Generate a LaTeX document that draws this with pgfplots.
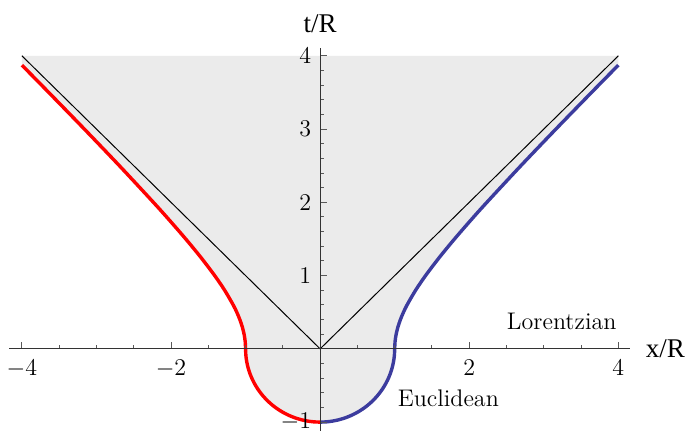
\documentclass[border=0pt]{standalone}
\usepackage{fontspec}
\usepackage{pgfplots}
\pgfplotsset{compat=1.18}
\newfontfamily\tms{Liberation Serif}
\definecolor{fillgray}{HTML}{EBEBEB}
\definecolor{curveblue}{HTML}{3C3C9E}

\begin{document}
\begin{tikzpicture}
\begin{axis}[
    axis lines=middle,
    x=37.25pt, y=36.6pt,
    xmin=-4.17, xmax=4.15,
    ymin=-1.12, ymax=4.1,
    axis line style={draw=black!80, line width=0.5pt, -},
    xtick={-4,-2,2,4},
    ytick={-1,1,2,3,4},
    minor xtick={-3.5,-3,-2.5,-1.5,-1,-0.5,0.5,1,1.5,2.5,3,3.5},
    minor ytick={-0.8,-0.6,-0.4,-0.2,0.2,0.4,0.6,0.8,1.2,1.4,1.6,1.8,2.2,2.4,2.6,2.8,3.2,3.4,3.6,3.8},
    xtick align=inside, ytick align=inside,
    major tick length=3.5pt, minor tick length=2pt,
    tick style={draw=black!65, line width=0.5pt},
    tick label style={font=\fontsize{12}{14}\selectfont},
    xticklabel style={yshift=-2pt},
    yticklabel style={xshift=-1pt},
    xlabel={\tms x/R}, ylabel={\tms t/R},
    every axis x label/.style={at={(ticklabel* cs:1)}, anchor=west, font=\fontsize{13.5}{15}\selectfont, inner sep=0pt, xshift=8pt},
    every axis y label/.style={at={(ticklabel* cs:1)}, anchor=south, font=\fontsize{13.5}{15}\selectfont, inner sep=7.5pt},
    axis on top,
]
% shaded region above the curves
\addplot[fill=fillgray, draw=none] coordinates {
 (-4,4) (4,4) (4,3.873)
 (3.6401,3.5) (3.1623,3) (2.6926,2.5) (2.2361,2) (2.0156,1.75) (1.8028,1.5)
 (1.6008,1.25) (1.4142,1) (1.2806,0.8) (1.1662,0.6) (1.1180,0.5) (1.0770,0.4)
 (1.0440,0.3) (1.0198,0.2) (1.0050,0.1) (1,0)
 (0.9962,-0.0872) (0.9848,-0.1736) (0.9659,-0.2588) (0.9397,-0.3420) (0.9063,-0.4226)
 (0.8660,-0.5) (0.8192,-0.5736) (0.7660,-0.6428) (0.7071,-0.7071) (0.6428,-0.7660)
 (0.5736,-0.8192) (0.5,-0.8660) (0.4226,-0.9063) (0.3420,-0.9397) (0.2588,-0.9659)
 (0.1736,-0.9848) (0.0872,-0.9962) (0,-1)
 (-0.0872,-0.9962) (-0.1736,-0.9848) (-0.2588,-0.9659) (-0.3420,-0.9397) (-0.4226,-0.9063)
 (-0.5,-0.8660) (-0.5736,-0.8192) (-0.6428,-0.7660) (-0.7071,-0.7071) (-0.7660,-0.6428)
 (-0.8192,-0.5736) (-0.8660,-0.5) (-0.9063,-0.4226) (-0.9397,-0.3420) (-0.9659,-0.2588)
 (-0.9848,-0.1736) (-0.9962,-0.0872) (-1,0)
 (-1.0050,0.1) (-1.0198,0.2) (-1.0440,0.3) (-1.0770,0.4) (-1.1180,0.5) (-1.1662,0.6)
 (-1.2806,0.8) (-1.4142,1) (-1.6008,1.25) (-1.8028,1.5) (-2.0156,1.75) (-2.2361,2)
 (-2.6926,2.5) (-3.1623,3) (-3.6401,3.5) (-4,3.873)
} -- cycle;
% light cone
\addplot[black, line width=0.5pt] coordinates {(-4,4) (0,0) (4,4)};
% right branch
\addplot[curveblue, line width=1.7pt, smooth] coordinates {
 (0,-1) (0.0872,-0.9962) (0.1736,-0.9848) (0.2588,-0.9659) (0.3420,-0.9397) (0.4226,-0.9063)
 (0.5,-0.8660) (0.5736,-0.8192) (0.6428,-0.7660) (0.7071,-0.7071) (0.7660,-0.6428)
 (0.8192,-0.5736) (0.8660,-0.5) (0.9063,-0.4226) (0.9397,-0.3420) (0.9659,-0.2588)
 (0.9848,-0.1736) (0.9962,-0.0872) (1,0)
 (1.0050,0.1) (1.0198,0.2) (1.0440,0.3) (1.0770,0.4) (1.1180,0.5) (1.1662,0.6)
 (1.2806,0.8) (1.4142,1) (1.6008,1.25) (1.8028,1.5) (2.0156,1.75) (2.2361,2)
 (2.6926,2.5) (3.1623,3) (3.6401,3.5) (4,3.873)
};
% left branch
\addplot[red, line width=1.7pt, smooth] coordinates {
 (0,-1) (-0.0872,-0.9962) (-0.1736,-0.9848) (-0.2588,-0.9659) (-0.3420,-0.9397) (-0.4226,-0.9063)
 (-0.5,-0.8660) (-0.5736,-0.8192) (-0.6428,-0.7660) (-0.7071,-0.7071) (-0.7660,-0.6428)
 (-0.8192,-0.5736) (-0.8660,-0.5) (-0.9063,-0.4226) (-0.9397,-0.3420) (-0.9659,-0.2588)
 (-0.9848,-0.1736) (-0.9962,-0.0872) (-1,0)
 (-1.0050,0.1) (-1.0198,0.2) (-1.0440,0.3) (-1.0770,0.4) (-1.1180,0.5) (-1.1662,0.6)
 (-1.2806,0.8) (-1.4142,1) (-1.6008,1.25) (-1.8028,1.5) (-2.0156,1.75) (-2.2361,2)
 (-2.6926,2.5) (-3.1623,3) (-3.6401,3.5) (-4,3.873)
};
\node[font=\fontsize{12}{14}\selectfont] at (axis cs:3.24,0.37) {Lorentzian};
\node[font=\fontsize{12}{14}\selectfont] at (axis cs:1.72,-0.67) {Euclidean};
\end{axis}
\end{tikzpicture}
\end{document}
